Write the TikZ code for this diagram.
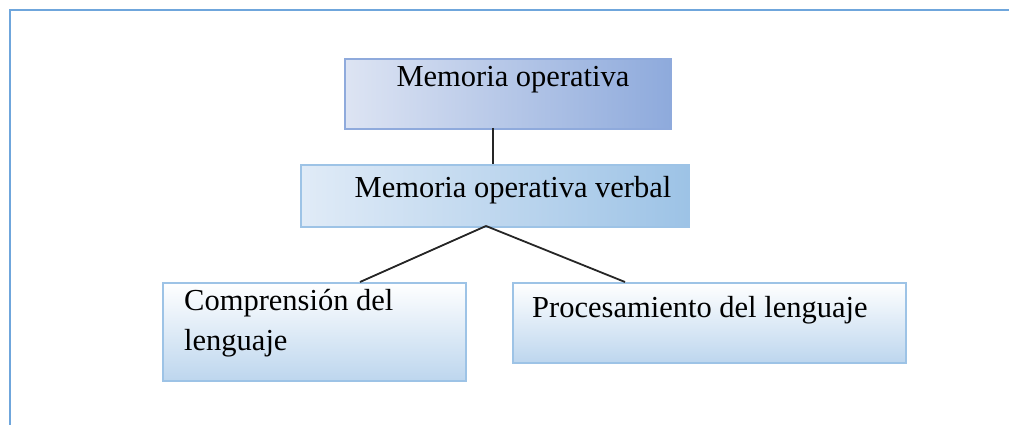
\documentclass[tikz,border=0pt]{standalone}
\usepackage{fontspec}
\setmainfont{Liberation Serif}
\definecolor{frameblue}{HTML}{6FA6DC}
\definecolor{topL}{HTML}{DDE4F3}
\definecolor{topR}{HTML}{8EAADC}
\definecolor{midL}{HTML}{E0EBF7}
\definecolor{midR}{HTML}{9DC3E6}
\definecolor{botB}{HTML}{BDD6EE}
\definecolor{edgeA}{HTML}{8FAADC}
\definecolor{edgeB}{HTML}{9DC3E6}
\begin{document}
\begin{tikzpicture}[x=1pt,y=-1pt,
  box/.style={rectangle,anchor=north west,inner sep=0pt,line width=1.6pt},
  lab/.style={font=\fontsize{30.5}{40}\selectfont,inner sep=0pt},
  conn/.style={line width=1.8pt,black!85}]
\useasboundingbox (0,0) rectangle (1009,425);
\clip (0,0) rectangle (1009,425);
\fill[white] (0,0) rectangle (1009,425);
\draw[frameblue,line width=2pt] (10,10) rectangle (1040,455);
% boxes
\node[box,draw=edgeA,left color=topL,right color=topR,minimum width=326pt,minimum height=70pt] (top) at (344,58) {};
\node[box,draw=edgeB,left color=midL,right color=midR,minimum width=388pt,minimum height=62pt] (mid) at (300,164) {};
\node[box,draw=edgeB,top color=white,bottom color=botB,minimum width=303pt,minimum height=98pt] (bl) at (162,282) {};
\node[box,draw=edgeB,top color=white,bottom color=botB,minimum width=393pt,minimum height=80pt] (br) at (512,282) {};
% texts
\node[lab] (ttop) at (513,80) {Memoria operativa};
\node[lab] (tmid) at (513,190) {Memoria operativa verbal};
\node[lab,anchor=west,align=left] (tbl) at (184,323) {Comprensión del\\lenguaje};
\node[lab,anchor=west] (tbr) at (532,310) {Procesamiento del lenguaje};
% connectors
\coordinate (topb) at (493,128);
\coordinate (midt) at (493,164);
\coordinate (midb) at (486,226);
\coordinate (blt) at (360,282);
\coordinate (brt) at (625,282);
\draw[conn] (topb) -- (midt);
\draw[conn] (midb) -- (blt);
\draw[conn] (midb) -- (brt);
\end{tikzpicture}
\end{document}
